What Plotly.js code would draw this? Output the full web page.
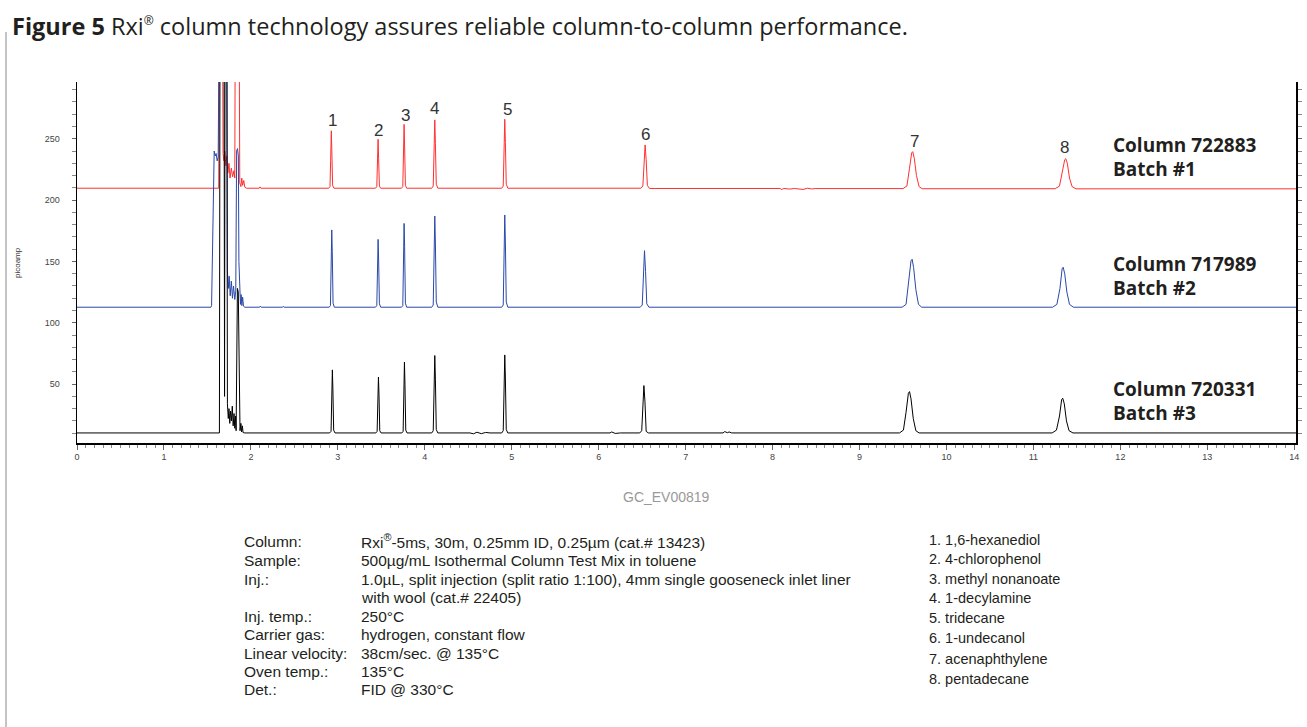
<!DOCTYPE html>
<html>
<head>
<meta charset="utf-8">
<script src="https://cdn.plot.ly/plotly-3.0.1.min.js"></script>
<style>html,body{margin:0;padding:0;background:#fff;}#chart{width:1307px;height:727px;}</style>
</head>
<body>
<div id="chart"></div>
<script>
// ---- Data (time in min, signal in picoamp) ----
const redTime = [0, 1.630, 1.640, 1.672, 1.680, 1.690, 1.700, 1.712, 1.722, 1.735, 1.748, 1.760, 1.775, 1.790, 1.805, 1.815, 1.822, 1.862, 1.872, 1.885, 1.895, 1.905, 1.918, 1.930, 1.950, 2.095, 2.105, 2.115,
  2.895, 2.910, 2.917, 2.925, 2.931, 2.940, 2.955,
  3.433, 3.448, 3.455, 3.463, 3.469, 3.478, 3.493,
  3.732, 3.747, 3.754, 3.762, 3.768, 3.777, 3.792,
  4.080, 4.097, 4.106, 4.115, 4.122, 4.132, 4.150,
  4.885, 4.902, 4.911, 4.920, 4.927, 4.937, 4.955,
  6.485, 6.508, 6.522, 6.534, 6.546, 6.560, 6.585,
  8.090, 8.100, 8.130, 8.200, 8.250, 8.350, 8.400, 8.450, 8.490,
  9.500, 9.545, 9.575, 9.600, 9.612, 9.630, 9.655, 9.685, 9.720,
  11.250, 11.300, 11.335, 11.360, 11.372, 11.390, 11.415, 11.445, 11.490,
  14.02];
const redSignal = [209.7, 209.7, 400, 400, 238, 232, 240, 228, 236, 222, 230, 218, 226, 219, 224, 218, 400, 400, 214, 211, 218, 212, 216, 210.5, 209.7, 209.7, 210.8, 209.7,
  209.7, 211, 232, 256.5, 240, 212, 209.7,
  209.7, 211, 228, 249.6, 234, 211.5, 209.7,
  209.7, 211, 236, 261.8, 244, 212, 209.7,
  209.7, 211.5, 238, 265.4, 246, 213, 209.7,
  209.7, 211.5, 238, 265.9, 247, 213, 209.7,
  209.7, 211.5, 232, 245, 233, 212, 209.5,
  209.5, 208.6, 209.5, 209.0, 209.5, 208.7, 209.7, 209.1, 209.4,
  209.4, 211.5, 226, 238.5, 239.5, 234, 220, 211, 209.3,
  209.3, 211.5, 224, 233, 233.8, 230, 218, 211, 209.2,
  209.2];

const blueTime = [0, 1.540, 1.548, 1.556, 1.562, 1.570, 1.578, 1.590, 1.600, 1.612, 1.624, 1.640, 1.722, 1.730, 1.740, 1.750, 1.762, 1.775, 1.788, 1.800, 1.815, 1.826, 1.836, 1.846, 1.856, 1.862, 1.870, 1.880, 1.888, 1.896, 1.905, 1.915, 1.930, 2.100, 2.108, 2.118, 2.365, 2.372, 2.382, 2.765, 2.772, 2.780,
  2.900, 2.915, 2.922, 2.930, 2.936, 2.945, 2.960,
  3.100, 3.106, 3.114,
  3.433, 3.448, 3.455, 3.463, 3.469, 3.478, 3.493,
  3.732, 3.747, 3.754, 3.762, 3.768, 3.777, 3.792,
  4.080, 4.097, 4.106, 4.115, 4.122, 4.132, 4.150,
  4.885, 4.902, 4.911, 4.920, 4.927, 4.937, 4.955,
  6.478, 6.501, 6.515, 6.527, 6.539, 6.553, 6.578,
  9.490, 9.535, 9.565, 9.592, 9.605, 9.622, 9.648, 9.678, 9.715,
  11.220, 11.270, 11.305, 11.330, 11.342, 11.360, 11.385, 11.415, 11.460,
  14.02];
const blueSignal = [112.7, 112.7, 114, 150, 190, 232, 240, 236, 238, 232, 235, 400, 400, 142, 128, 138, 122, 134, 120, 130, 119, 126, 240, 242, 236, 150, 122, 115, 123, 114, 121, 113.5, 112.7, 112.7, 113.6, 112.7, 112.7, 113.4, 112.7, 112.7, 113.3, 112.7,
  112.7, 114, 150, 175.7, 158, 116, 112.7,
  112.7, 113.3, 112.7,
  112.7, 114, 145, 168, 152, 115.5, 112.7,
  112.7, 114, 152, 181, 162, 116, 112.7,
  112.7, 114.5, 155, 187, 165, 117, 112.7,
  112.7, 114.5, 156, 187.9, 166, 117, 112.7,
  112.7, 114.5, 140, 158.8, 142, 115.5, 112.7,
  112.7, 115, 132, 150.5, 151.8, 145, 127, 115, 112.7,
  112.7, 115, 128, 144, 145.3, 140, 125, 115, 112.7,
  112.7];

const blackTime = [0, 1.638, 1.646, 1.690, 1.697, 1.704, 1.722, 1.730, 1.740, 1.748, 1.757, 1.766, 1.776, 1.786, 1.796, 1.806, 1.815, 1.824, 1.830, 1.836, 1.845, 1.855, 1.862, 1.868, 1.875, 1.885, 1.893, 1.902, 1.910, 1.930,
  2.905, 2.922, 2.929, 2.937, 2.943, 2.952, 2.967,
  3.437, 3.452, 3.459, 3.467, 3.473, 3.482, 3.497,
  3.736, 3.751, 3.758, 3.766, 3.772, 3.781, 3.796,
  4.080, 4.097, 4.106, 4.115, 4.122, 4.132, 4.150,
  4.520, 4.560, 4.600, 4.650, 4.700, 4.750,
  4.885, 4.902, 4.911, 4.920, 4.927, 4.937, 4.955,
  6.130, 6.150, 6.190, 6.250,
  6.472, 6.495, 6.508, 6.520, 6.532, 6.546, 6.571,
  7.430, 7.450, 7.480, 7.500, 7.530,
  9.460, 9.505, 9.535, 9.562, 9.575, 9.592, 9.618, 9.648, 9.685,
  11.215, 11.265, 11.300, 11.325, 11.337, 11.355, 11.380, 11.410, 11.455,
  14.02];
const blackSignal = [10.2, 10.2, 400, 400, 40, 400, 400, 34, 22, 30, 18, 28, 20, 32, 16, 26, 14, 24, 12, 90, 128, 125, 92, 30, 12, 18, 11, 16, 10.5, 10.2,
  10.2, 11.5, 40, 61.6, 46, 12.5, 10.2,
  10.2, 11.5, 36, 55.7, 42, 12, 10.2,
  10.2, 11.5, 44, 67.9, 50, 12.5, 10.2,
  10.2, 12, 48, 73.3, 54, 13, 10.2,
  10.2, 9.5, 10.8, 9.6, 10.6, 10.2,
  10.2, 12, 48, 73.8, 55, 13, 10.2,
  10.2, 11, 9.8, 10.2,
  10.2, 12, 35, 48.8, 36, 11.5, 10.2,
  10.2, 11.3, 10.4, 11.0, 10.2,
  10.2, 12.5, 27, 42.5, 43.9, 38, 22, 12, 10.2,
  10.2, 12.5, 24, 37.5, 38.5, 34, 20, 12, 10.2,
  10.2];

// peak numbers placed above the top (red) trace
const peakNumbers = ['1', '2', '3', '4', '5', '6', '7', '8'];
const peakLabelTime = [2.933, 3.463, 3.773, 4.107, 4.947, 6.534, 9.628, 11.354];
const peakLabelSignal = [265.3, 256.5, 268.7, 274.4, 273.6, 253.1, 248.1, 243.3];

const columnNames = ['Column 722883', 'Column 717989', 'Column 720331'];
const batchNames = ['Batch #1', 'Batch #2', 'Batch #3'];

const xTickValues = [0,1,2,3,4,5,6,7,8,9,10,11,12,13,14];
const yTickValues = [50, 100, 150, 200, 250];

const conditionLabels = ['Column:', 'Sample:', 'Inj.:', '', 'Inj. temp.:', 'Carrier gas:', 'Linear velocity:', 'Oven temp.:', 'Det.:'];
const conditionValues = ['Rxi<sup>®</sup>-5ms, 30m, 0.25mm ID, 0.25µm (cat.# 13423)',
  '500µg/mL Isothermal Column Test Mix in toluene',
  '1.0µL, split injection (split ratio 1:100), 4mm single gooseneck inlet liner',
  'with wool (cat.# 22405)',
  '250°C', 'hydrogen, constant flow', '38cm/sec. @ 135°C', '135°C', 'FID @ 330°C'];
const compounds = ['1. 1,6-hexanediol', '2. 4-chlorophenol', '3. methyl nonanoate', '4. 1-decylamine',
  '5. tridecane', '6. 1-undecanol', '7. acenaphthylene', '8. pentadecane'];

// ---- layout geometry (pixels) ----
const W = 1307, H = 727, L = 77, R = 11, T = 82, B = 284;
const PW = W - L - R, PH = H - T - B;
const px = x => (x - L) / PW;
const py = y => (H - B - y) / PH;

const traces = [
  {x: redTime, y: redSignal, type: 'scatter', mode: 'lines', line: {color: '#ff3030', width: 1}, hoverinfo: 'skip'},
  {x: blueTime, y: blueSignal, type: 'scatter', mode: 'lines', line: {color: '#2a48a8', width: 1}, hoverinfo: 'skip'},
  {x: blackTime, y: blackSignal, type: 'scatter', mode: 'lines', line: {color: '#000000', width: 1}, hoverinfo: 'skip'}
];

const annotations = [];
const txtFont = 'Liberation Sans, Arial, sans-serif';
const darkText = '#231f20';
// title
annotations.push({xref: 'paper', yref: 'paper', x: px(10), y: py(26), xanchor: 'left', yanchor: 'middle', showarrow: false,
  text: '<b>Figure 5</b> Rxi<sup><span style="font-size:12px">®</span></sup> column technology assures reliable column-to-column performance.',
  font: {family: 'Open Sans, Noto Sans, sans-serif', size: 23.5, color: darkText}});
// y-axis title
annotations.push({xref: 'paper', yref: 'paper', x: px(17), y: py(263), xanchor: 'center', yanchor: 'middle', showarrow: false,
  textangle: -90, text: 'picoamp', font: {family: 'Liberation Sans, Arial, sans-serif', size: 8, color: '#333'}});
// peak numbers
peakNumbers.forEach((t, i) => annotations.push({x: peakLabelTime[i], y: peakLabelSignal[i], xref: 'x', yref: 'y', text: t,
  showarrow: false, xanchor: 'center', yanchor: 'middle', font: {family: 'Liberation Sans, Arial, sans-serif', size: 17, color: '#333'}}));
// column/batch labels
const labelRows = [[145, 169], [264, 288], [389, 413]];
columnNames.forEach((c, i) => {
  annotations.push({xref: 'paper', yref: 'paper', x: px(1111), y: py(labelRows[i][0]), xanchor: 'left', yanchor: 'middle', showarrow: false,
    text: '<b>' + c + '</b>', font: {family: 'Open Sans, Noto Sans, sans-serif', size: 19, color: darkText}});
  annotations.push({xref: 'paper', yref: 'paper', x: px(1111), y: py(labelRows[i][1]), xanchor: 'left', yanchor: 'middle', showarrow: false,
    text: '<b>' + batchNames[i] + '</b>', font: {family: 'Open Sans, Noto Sans, sans-serif', size: 19, color: darkText}});
});
// figure code
annotations.push({xref: 'paper', yref: 'paper', x: px(666), y: py(497), xanchor: 'center', yanchor: 'middle', showarrow: false,
  text: 'GC_EV00819', font: {family: txtFont, size: 14, color: '#999'}});
// conditions
const condRows = [541, 560, 579, 597, 616, 634, 653, 671, 689];
conditionLabels.forEach((t, i) => {
  if (t) annotations.push({xref: 'paper', yref: 'paper', x: px(242), y: py(condRows[i]), xanchor: 'left', yanchor: 'middle', showarrow: false,
    text: t, font: {family: txtFont, size: 15.5, color: darkText}});
  annotations.push({xref: 'paper', yref: 'paper', x: px(359), y: py(condRows[i]), xanchor: 'left', yanchor: 'middle', showarrow: false,
    text: conditionValues[i], font: {family: txtFont, size: 15.5, color: darkText}});
});
const compRows = [540, 559, 579, 598, 618, 638, 659, 679];
compounds.forEach((t, i) => annotations.push({xref: 'paper', yref: 'paper', x: px(927), y: py(compRows[i]), xanchor: 'left', yanchor: 'middle', showarrow: false,
  text: t, font: {family: txtFont, size: 14.5, color: darkText}}));

const layout = {
  width: W, height: H,
  margin: {l: L, r: R, t: T, b: B, pad: 0},
  paper_bgcolor: '#fff', plot_bgcolor: '#fff',
  showlegend: false,
  xaxis: {range: [0, 14.02], showgrid: false, zeroline: false, showline: true, linecolor: '#000', linewidth: 1.5,
    ticks: 'outside', ticklen: 5, tickcolor: '#666', tickwidth: 1,
    tickvals: xTickValues, ticktext: xTickValues.map(String),
    minor: {dtick: 0.1, tick0: 0, ticks: 'outside', ticklen: 3, tickcolor: '#888'},
    tickfont: {family: 'Liberation Sans, Arial, sans-serif', size: 9, color: '#444'}, fixedrange: true},
  yaxis: {range: [2, 296.3], showgrid: false, zeroline: false, showline: true, linecolor: '#000', linewidth: 1.5, mirror: 'ticks',
    ticks: 'outside', ticklen: 4, tickcolor: '#666', tickwidth: 1, ticklabelstandoff: 10,
    tickvals: yTickValues, ticktext: yTickValues.map(String),
    minor: {dtick: 10, tick0: 0, ticks: 'outside', ticklen: 4, tickcolor: '#888'},
    tickfont: {family: 'Liberation Sans, Arial, sans-serif', size: 9, color: '#444'}, fixedrange: true},
  annotations: annotations,
  shapes: [{type: 'line', xref: 'paper', yref: 'paper', x0: px(6), x1: px(6), y0: py(32), y1: py(727),
    line: {color: '#b0b0b0', width: 1.5}}]
};

Plotly.newPlot('chart', traces, layout, {displayModeBar: false, staticPlot: true});
</script>
</body>
</html>
